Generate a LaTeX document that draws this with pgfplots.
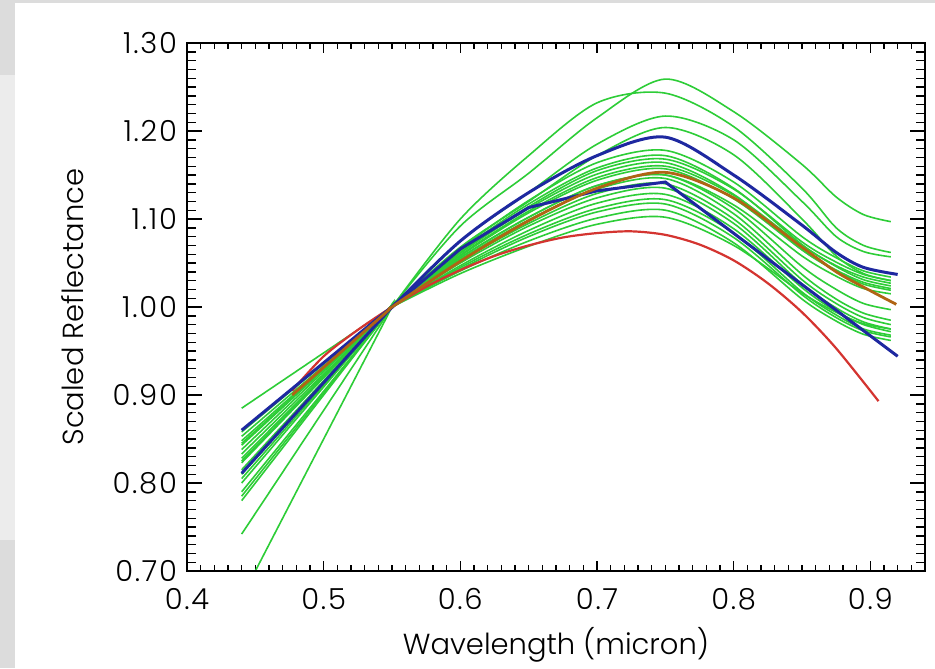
\documentclass[border=0pt]{standalone}
\usepackage{pgfplots}
\pgfplotsset{compat=1.18}
\usepackage{fontspec}
\setmainfont{Poppins}[UprightFont={* Light}]
\definecolor{gl}{RGB}{45,205,55}
\definecolor{bl}{RGB}{30,40,160}
\definecolor{rd}{RGB}{212,52,48}
\definecolor{br}{RGB}{176,100,20}
\definecolor{framegray}{RGB}{220,220,220}
\definecolor{framelight}{RGB}{236,236,236}
\newcommand\tfont{\fontsize{14.5}{17}\selectfont\addfontfeature{LetterSpace=6}}
\newcommand\lfont{\fontsize{14.5}{17}\selectfont}
\begin{document}
\begin{tikzpicture}
\useasboundingbox (-93.5pt,-48.5pt) rectangle (374pt,285.5pt);
\fill[white] (-93.5pt,-48.5pt) rectangle (374pt,285.5pt);
\fill[framegray] (-93.5pt,284pt) rectangle (374pt,285.5pt);
\fill[framegray] (-93.5pt,248pt) rectangle (-86pt,285.5pt);
\fill[framelight] (-93.5pt,15.5pt) rectangle (-86pt,248pt);
\fill[framegray] (-93.5pt,-48.5pt) rectangle (-86pt,15.5pt);
\begin{axis}[
  at={(0,0)}, anchor=south west,
  width=369pt, height=264pt, scale only axis,
  xmin=0.4, xmax=0.94, ymin=0.7, ymax=1.3,
  axis line style={line width=1pt},
  xtick={0.4,0.5,...,0.9},
  minor xtick={0.40,0.41,...,0.94},
  ytick=\empty,
  tick align=inside, tick pos=both,
  major tick length=5pt, minor tick length=3pt,
  every tick/.style={black, line width=0.7pt},
  xticklabel style={font=\tfont, /pgf/number format/.cd, fixed, fixed zerofill, precision=1, assume math mode=true},
  xticklabel shift=5pt,
  xlabel={Wavelength (micron)},
  xlabel style={font=\lfont, at={(axis description cs:0.5,-0.159)}, anchor=base},
  ylabel={Scaled Reflectance},
  ylabel style={font=\lfont, at={(axis description cs:-0.1405,0.5)}, anchor=base, rotate=0},
  every axis plot/.append style={no marks},
]
% green spectra
\addplot[gl, line width=0.8pt, smooth] coordinates {(0.44,0.670) (0.545,0.985) (0.55,1.000) (0.60,1.092) (0.65,1.152) (0.70,1.215) (0.75,1.259) (0.80,1.222) (0.85,1.162) (0.875,1.125) (0.895,1.105) (0.915,1.097)};
\addplot[gl, line width=0.8pt, smooth] coordinates {(0.44,0.742) (0.545,0.988) (0.55,1.000) (0.60,1.100) (0.65,1.172) (0.70,1.232) (0.75,1.243) (0.80,1.205) (0.85,1.135) (0.875,1.090) (0.895,1.070) (0.915,1.062)};
\addplot[gl, line width=0.8pt, smooth] coordinates {(0.44,0.780) (0.545,0.990) (0.55,1.000) (0.60,1.075) (0.65,1.130) (0.70,1.185) (0.75,1.217) (0.80,1.190) (0.85,1.120) (0.875,1.080) (0.895,1.063) (0.915,1.057)};
\addplot[gl, line width=0.8pt, smooth] coordinates {(0.44,0.785) (0.545,0.990) (0.55,1.000) (0.60,1.068) (0.65,1.120) (0.70,1.172) (0.75,1.204) (0.80,1.173) (0.85,1.100) (0.875,1.058) (0.895,1.038) (0.915,1.030)};
\addplot[gl, line width=0.8pt, smooth] coordinates {(0.44,0.790) (0.545,0.990) (0.55,1.000) (0.60,1.066) (0.65,1.121) (0.70,1.164) (0.75,1.178) (0.80,1.142) (0.85,1.080) (0.875,1.056) (0.895,1.041) (0.915,1.034)};
\addplot[gl, line width=0.8pt, smooth] coordinates {(0.44,0.800) (0.545,0.991) (0.55,1.000) (0.60,1.064) (0.65,1.117) (0.70,1.158) (0.75,1.172) (0.80,1.135) (0.85,1.071) (0.875,1.046) (0.895,1.031) (0.915,1.024)};
\addplot[gl, line width=0.8pt, smooth] coordinates {(0.44,0.805) (0.545,0.991) (0.55,1.000) (0.60,1.062) (0.65,1.114) (0.70,1.155) (0.75,1.168) (0.80,1.134) (0.85,1.074) (0.875,1.051) (0.895,1.037) (0.915,1.030)};
\addplot[gl, line width=0.8pt, smooth] coordinates {(0.44,0.815) (0.545,0.992) (0.55,1.000) (0.60,1.061) (0.65,1.112) (0.70,1.151) (0.75,1.164) (0.80,1.128) (0.85,1.065) (0.875,1.041) (0.895,1.026) (0.915,1.019)};
\addplot[gl, line width=0.8pt, smooth] coordinates {(0.44,0.823) (0.545,0.992) (0.55,1.000) (0.60,1.059) (0.65,1.109) (0.70,1.147) (0.75,1.160) (0.80,1.127) (0.85,1.070) (0.875,1.047) (0.895,1.034) (0.915,1.027)};
\addplot[gl, line width=0.8pt, smooth] coordinates {(0.44,0.828) (0.545,0.992) (0.55,1.000) (0.60,1.058) (0.65,1.107) (0.70,1.144) (0.75,1.157) (0.80,1.123) (0.85,1.065) (0.875,1.042) (0.895,1.028) (0.915,1.021)};
\addplot[gl, line width=0.8pt, smooth] coordinates {(0.44,0.833) (0.545,0.992) (0.55,1.000) (0.60,1.056) (0.65,1.102) (0.70,1.138) (0.75,1.150) (0.80,1.112) (0.85,1.046) (0.875,1.020) (0.895,1.004) (0.915,0.997)};
\addplot[gl, line width=0.8pt, smooth] coordinates {(0.44,0.838) (0.545,0.993) (0.55,1.000) (0.60,1.054) (0.65,1.099) (0.70,1.134) (0.75,1.146) (0.80,1.106) (0.85,1.037) (0.875,1.009) (0.895,0.993) (0.915,0.985)};
\addplot[gl, line width=0.8pt, smooth] coordinates {(0.44,0.843) (0.545,0.993) (0.55,1.000) (0.60,1.052) (0.65,1.095) (0.70,1.129) (0.75,1.140) (0.80,1.100) (0.85,1.031) (0.875,1.004) (0.895,0.988) (0.915,0.980)};
\addplot[gl, line width=0.8pt, smooth] coordinates {(0.44,0.848) (0.545,0.993) (0.55,1.000) (0.60,1.050) (0.65,1.092) (0.70,1.124) (0.75,1.135) (0.80,1.095) (0.85,1.026) (0.875,0.999) (0.895,0.983) (0.915,0.975)};
\addplot[gl, line width=0.8pt, smooth] coordinates {(0.44,0.853) (0.545,0.993) (0.55,1.000) (0.60,1.047) (0.65,1.087) (0.70,1.118) (0.75,1.128) (0.80,1.089) (0.85,1.022) (0.875,0.995) (0.895,0.980) (0.915,0.972)};
\addplot[gl, line width=0.8pt, smooth] coordinates {(0.44,0.858) (0.545,0.994) (0.55,1.000) (0.60,1.045) (0.65,1.083) (0.70,1.112) (0.75,1.122) (0.80,1.084) (0.85,1.017) (0.875,0.991) (0.895,0.975) (0.915,0.968)};
\addplot[gl, line width=0.8pt, smooth] coordinates {(0.44,0.825) (0.545,0.992) (0.55,1.000) (0.60,1.043) (0.65,1.080) (0.70,1.108) (0.75,1.117) (0.80,1.079) (0.85,1.014) (0.875,0.988) (0.895,0.973) (0.915,0.966)};
\addplot[gl, line width=0.8pt, smooth] coordinates {(0.44,0.845) (0.545,0.993) (0.55,1.000) (0.60,1.041) (0.65,1.075) (0.70,1.101) (0.75,1.110) (0.80,1.073) (0.85,1.009) (0.875,0.984) (0.895,0.969) (0.915,0.962)};
\addplot[gl, line width=0.8pt, smooth] coordinates {(0.44,0.885) (0.545,0.995) (0.55,1.000) (0.60,1.038) (0.65,1.069) (0.70,1.094) (0.75,1.102) (0.80,1.070) (0.85,1.016) (0.875,0.994) (0.895,0.981) (0.915,0.975)};
\addplot[gl, line width=0.8pt, smooth] coordinates {(0.44,0.810) (0.545,0.991) (0.55,1.000) (0.60,1.056) (0.65,1.102) (0.70,1.138) (0.75,1.150) (0.80,1.116) (0.85,1.058) (0.875,1.035) (0.895,1.021) (0.915,1.015)};
% red
\addplot[rd, line width=1.1pt, smooth] coordinates {(0.477,0.905) (0.50,0.944) (0.525,0.974) (0.55,1.000) (0.575,1.023) (0.60,1.042) (0.625,1.058) (0.65,1.070) (0.675,1.079) (0.70,1.084) (0.725,1.086) (0.75,1.082) (0.775,1.071) (0.80,1.053) (0.825,1.027) (0.85,0.994) (0.875,0.953) (0.906,0.893)};
% blue upper
\addplot[bl, line width=1.5pt, smooth] coordinates {(0.44,0.860) (0.545,0.994) (0.55,1.000) (0.60,1.075) (0.65,1.130) (0.70,1.172) (0.75,1.193) (0.80,1.150) (0.85,1.093) (0.875,1.062) (0.895,1.045) (0.92,1.037)};
% blue lower
\addplot[bl, line width=1.5pt] coordinates {(0.44,0.811) (0.55,1.000) (0.60,1.066) (0.65,1.113) (0.70,1.132) (0.75,1.142) (0.92,0.944)};
% brown
\addplot[br, line width=1.4pt, smooth] coordinates {(0.477,0.900) (0.545,0.993) (0.55,1.000) (0.60,1.052) (0.65,1.098) (0.70,1.135) (0.75,1.153) (0.80,1.124) (0.85,1.068) (0.875,1.040) (0.897,1.021) (0.919,1.003)};
\end{axis}
\begin{axis}[
  at={(0,0)}, anchor=south west,
  width=369pt, height=264pt, scale only axis,
  xmin=0.4, xmax=0.94, ymin=0.7, ymax=1.3,
  axis line style={line width=1pt},
  xtick=\empty,
  ytick={0.7,0.8,...,1.3},
  minor ytick={0.70,0.71,...,1.30},
  tick align=inside, tick pos=both,
  major tick length=7.5pt, minor tick length=4.5pt,
  every tick/.style={black, line width=0.7pt},
  yticklabel style={font=\tfont, /pgf/number format/.cd, fixed, fixed zerofill, precision=2, assume math mode=true},
  yticklabel shift=1.5pt,
]
\end{axis}
\end{tikzpicture}
\end{document}
